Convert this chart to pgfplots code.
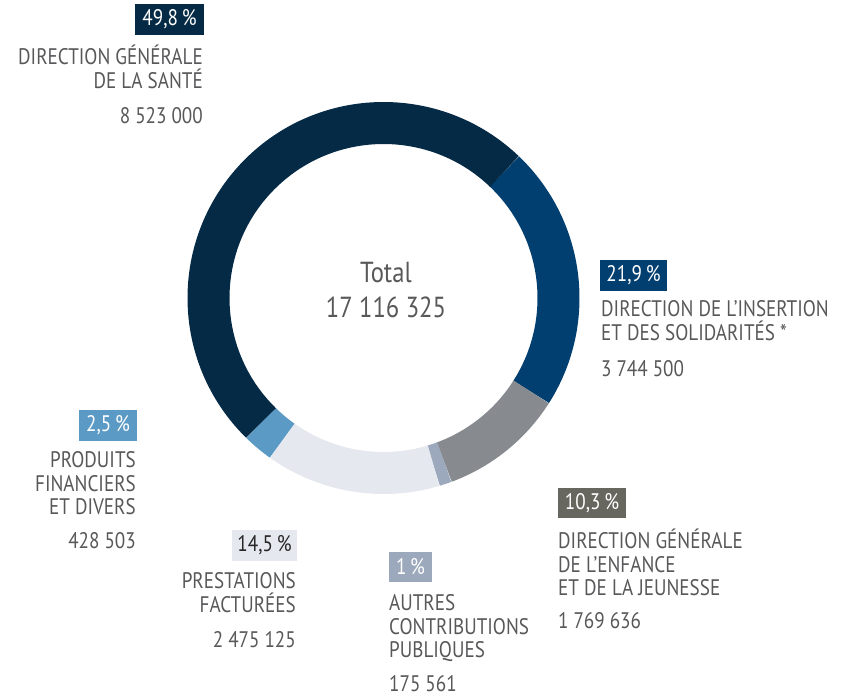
\documentclass[border=0pt]{standalone}
\usepackage{pgfplots}
\pgfplotsset{compat=1.18}
\usepackage{pgfplotstable}
\usepackage{fontspec}
\setmainfont{PT Sans}[FakeStretch=0.85]

\definecolor{cDGS}{HTML}{052A45}
\definecolor{cDIS}{HTML}{003F6F}
\definecolor{cDGEJ}{HTML}{878A8F}
\definecolor{cAUT}{HTML}{9CA8BC}
\definecolor{cPRE}{HTML}{E5E8EE}
\definecolor{cPRO}{HTML}{5C9AC6}
\definecolor{txt}{HTML}{58585A}
\definecolor{bDGEJ}{HTML}{67665F}

% slices, clockwise from the top right
\pgfplotstableread{
label value col
DIS  3744500 cDIS
DGEJ 1769636 cDGEJ
AUT  175561  cAUT
PRE  2475125 cPRE
PRO  428503  cPRO
DGS  8523000 cDGS
}\slices

\newcommand\lab[4]{\node[anchor=#3,inner sep=0pt,text=txt] at (axis cs:#1,-#2) {#4};}
\newcommand\pbox[7]{% x1 y1 x2 y2 fill textcol text
  \fill[#5] (axis cs:#1,-#2) rectangle (axis cs:#3,-#4);
  \node[text=#6,inner sep=0pt] at (axis cs:{(#1+#3)/2},{-(#2+#4)/2}) {#7};}
\newcommand\sep{\kern0.22em}

\begin{document}
\begin{tikzpicture}
\def\angacc{46.3}
\pgfplotsforeachungrouped \i in {0,...,5}{%
  \pgfplotstablegetelem{\i}{value}\of\slices
  \pgfkeys{/pgf/fpu=true,/pgf/fpu/output format=fixed}%
  \pgfmathparse{\angacc - 360*\pgfplotsretval/17116325}%
  \let\newang\pgfmathresult
  \pgfkeys{/pgf/fpu=false}%
  \expandafter\xdef\csname aS\i\endcsname{\angacc}%
  \expandafter\xdef\csname aE\i\endcsname{\newang}%
  \pgfplotstablegetelem{\i}{col}\of\slices
  \expandafter\xdef\csname cS\i\endcsname{\pgfplotsretval}%
  \xdef\angacc{\newang}%
}
\begin{axis}[
  x=1pt, y=1pt,
  xmin=0, xmax=845, ymin=-699, ymax=0,
  hide axis, clip=false,
  font=\fontsize{22.5}{24}\selectfont,
]
\coordinate (BL) at (axis cs:0,-699);
\coordinate (TR) at (axis cs:845,0);
\pgfplotsinvokeforeach{0,...,5}{%
  \edef\tmp{\noexpand\draw[color=\csname cS#1\endcsname, line width=42pt]
    (axis cs:383.5,-298) ++(\csname aS#1\endcsname:175pt)
    arc[start angle=\csname aS#1\endcsname, end angle=\csname aE#1\endcsname, radius=175pt];}
  \tmp
}

% centre
\node[text=txt,font=\fontsize{29}{30}\selectfont,anchor=base] at (axis cs:386,-283) {Total};
\node[text=txt,font=\fontsize{29}{30}\selectfont,anchor=base] at (axis cs:386,-318) {17\sep116\sep325};

% DGS
\pbox{135}{4}{204}{35}{cDGS}{white}{49,8\,\%}
\lab{203}{65}{base east}{DIRECTION GÉNÉRALE}
\lab{203}{89}{base east}{DE LA SANTÉ}
\lab{203}{124}{base east}{8\sep523\sep000}

% DIS
\pbox{600}{260}{667}{291}{cDIS}{white}{21,9\,\%}
\lab{601}{317}{base west}{DIRECTION DE L’INSERTION}
\lab{601}{341}{base west}{ET DES SOLIDARITÉS *}
\lab{601}{377}{base west}{3\sep744\sep500}

% DGEJ
\pbox{558}{488}{626}{518}{bDGEJ}{white}{10,3\,\%}
\lab{558}{548}{base west}{DIRECTION GÉNÉRALE}
\lab{558}{572}{base west}{DE L’ENFANCE}
\lab{558}{595}{base west}{ET DE LA JEUNESSE}
\lab{558}{628}{base west}{1\sep769\sep636}

% AUT
\pbox{389}{552}{432}{582}{cAUT}{white}{1\,\%}
\lab{389}{610}{base west}{AUTRES}
\lab{389}{634}{base west}{CONTRIBUTIONS}
\lab{389}{657}{base west}{PUBLIQUES}
\lab{389}{691}{base west}{175\sep561}

% PRE
\pbox{232}{530}{297}{561}{cPRE}{black!85}{14,5\,\%}
\lab{296}{588}{base east}{PRESTATIONS}
\lab{296}{612}{base east}{FACTURÉES}
\lab{296}{647}{base east}{2\sep475\sep125}

% PRO
\pbox{79}{410}{137}{441}{cPRO}{white}{2,5\,\%}
\lab{136}{467}{base east}{PRODUITS}
\lab{136}{491}{base east}{FINANCIERS}
\lab{136}{514}{base east}{ET DIVERS}
\lab{136}{548}{base east}{428\sep503}
\end{axis}
\pgfresetboundingbox
\path[use as bounding box] (BL) rectangle (TR);
\end{tikzpicture}
\end{document}
